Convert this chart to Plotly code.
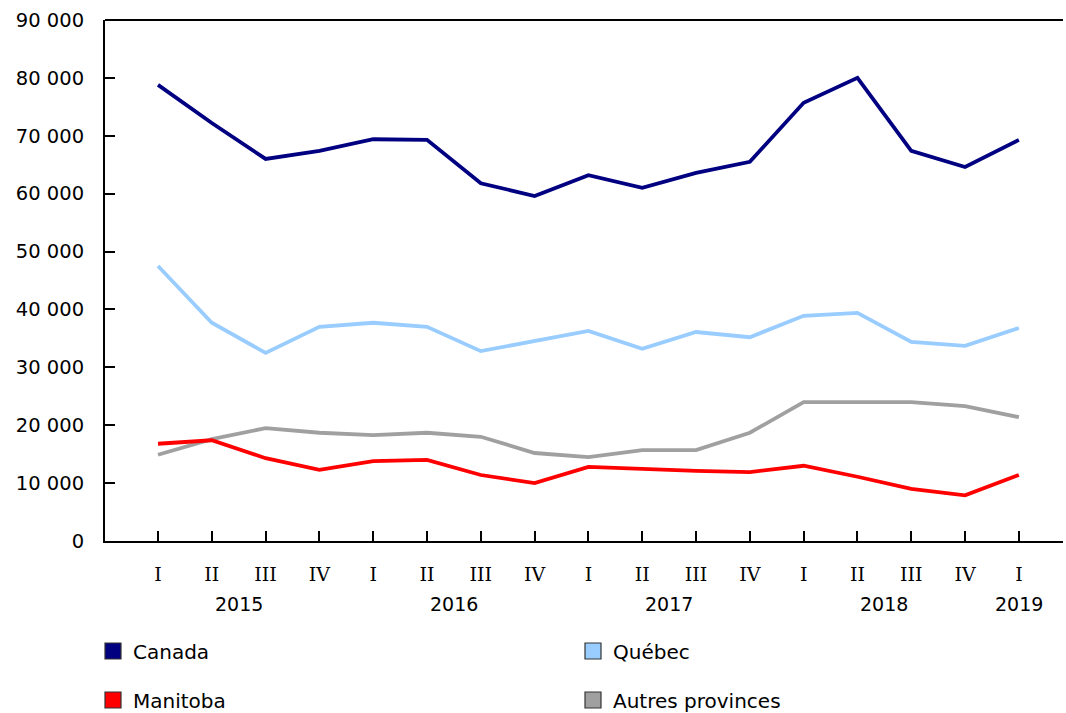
import plotly.graph_objects as go

quarters = ["I", "II", "III", "IV", "I", "II", "III", "IV", "I", "II", "III", "IV",
            "I", "II", "III", "IV", "I"]
years = ["2015", "2016", "2017", "2018", "2019"]
year_centers = [1.5, 5.5, 9.5, 13.5, 16]

canada = [78800, 72200, 66000, 67400, 69400, 69300, 61800, 59600, 63200, 61000,
          63600, 65500, 75700, 80000, 67400, 64600, 69300]
quebec = [47500, 37700, 32500, 37000, 37700, 37000, 32800, 34500, 36300, 33200,
          36100, 35200, 38900, 39400, 34400, 33700, 36800]
manitoba = [16800, 17400, 14300, 12300, 13800, 14000, 11400, 10000, 12800, 12400,
            12100, 11900, 13000, 11100, 9000, 7900, 11400]
autres = [14900, 17600, 19500, 18700, 18300, 18700, 18000, 15200, 14500, 15700,
          15700, 18700, 24000, 24000, 24000, 23300, 21400]

series = [
    ("Canada", canada, "#000080", "legend"),
    ("Québec", quebec, "#99CCFF", "legend2"),
    ("Manitoba", manitoba, "#FF0000", "legend3"),
    ("Autres provinces", autres, "#A0A0A0", "legend4"),
]
legend_pos = {"legend": (93, 651), "legend2": (573, 651),
              "legend3": (93, 700), "legend4": (573, 700)}

xs = list(range(len(quarters)))
FONT = "DejaVu Sans, Verdana, sans-serif"
W, H = 1066, 713

fig = go.Figure()
for name, vals, color, lg in [series[3], series[1], series[2], series[0]]:
    fig.add_trace(go.Scatter(x=xs, y=vals, mode="lines", name=name,
                             line=dict(color=color, width=3.8),
                             showlegend=False, hoverinfo="x+y+name"))
for name, vals, color, lg in series:
    fig.add_trace(go.Scatter(x=[None], y=[None], mode="markers", name=name,
                             marker=dict(symbol="square", size=20, color=color,
                                         line=dict(color="#333333", width=1.2)),
                             legend=lg, showlegend=True))

legends = {}
for key, (px, py) in legend_pos.items():
    legends[key] = dict(orientation="v", xref="container", x=px / W, xanchor="left",
                        yref="container", y=1 - py / H, yanchor="middle",
                        font=dict(family=FONT, size=20), itemclick=False,
                        bgcolor="rgba(0,0,0,0)")

fig.update_layout(
    width=W, height=H,
    margin=dict(l=105, r=3, t=20, b=172, autoexpand=False),
    paper_bgcolor="white", plot_bgcolor="white",
    separators=", ",
    font=dict(family=FONT, size=19, color="#000000"),
    xaxis=dict(range=[-0.985, 16.82], tickmode="array", tickvals=xs, ticktext=quarters,
               ticks="inside", ticklen=10, tickwidth=2, tickcolor="black",
               showline=True, linecolor="black", linewidth=2,
               showgrid=False, zeroline=False,
               tickfont=dict(family="DejaVu Serif, serif", size=19),
               ticklabelstandoff=15),
    yaxis=dict(range=[0, 90000], dtick=10000, tickformat=",d",
               ticks="inside", ticklen=10, tickwidth=2, tickcolor="black",
               showline=True, linecolor="black", linewidth=2,
               showgrid=False, zeroline=False,
               tickfont=dict(family=FONT, size=19.5),
               ticklabelstandoff=15),
    shapes=[dict(type="line", xref="paper", yref="paper", x0=0, x1=1, y0=1, y1=1,
                 line=dict(color="black", width=2))],
    **legends,
)

for yr, cx in zip(years, year_centers):
    fig.add_annotation(x=cx, xref="x", y=-0.121, yref="paper", yanchor="middle",
                       text=yr, showarrow=False, font=dict(family=FONT, size=19))

fig.write_html("out.html", config={"displayModeBar": False},
               post_script="document.body.style.margin='0';document.body.style.overflow='hidden';")
